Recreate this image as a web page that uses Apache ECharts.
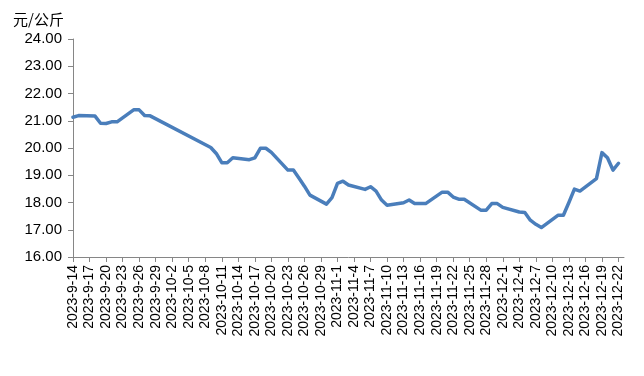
<!DOCTYPE html>
<html>
<head>
<meta charset="utf-8">
<script src="https://cdn.jsdelivr.net/npm/echarts@6/dist/echarts.min.js"></script>
<style>
html,body{margin:0;padding:0;background:#fff;}
#chart{width:644px;height:376px;}
</style>
</head>
<body>
<div id="chart"></div>
<script>
// Axis span (calendar days) and tick labels
const firstDay = '2023-09-14';
const lastDay = '2023-12-23';
const yTicks = [16, 17, 18, 19, 20, 21, 22, 23, 24];
const unitLabel = '元/公斤';

// Trading days and prices (元/公斤)
const tradeDates = [
  '2023-9-14','2023-9-15','2023-9-18','2023-9-19','2023-9-20','2023-9-21','2023-9-22',
  '2023-9-25','2023-9-26','2023-9-27','2023-9-28',
  '2023-10-9','2023-10-10','2023-10-11','2023-10-12','2023-10-13',
  '2023-10-16','2023-10-17','2023-10-18','2023-10-19','2023-10-20',
  '2023-10-23','2023-10-24','2023-10-25','2023-10-26','2023-10-27',
  '2023-10-30','2023-10-31','2023-11-1','2023-11-2','2023-11-3',
  '2023-11-6','2023-11-7','2023-11-8','2023-11-9','2023-11-10',
  '2023-11-13','2023-11-14','2023-11-15','2023-11-16','2023-11-17',
  '2023-11-20','2023-11-21','2023-11-22','2023-11-23','2023-11-24',
  '2023-11-27','2023-11-28','2023-11-29','2023-11-30','2023-12-1',
  '2023-12-4','2023-12-5','2023-12-6','2023-12-7','2023-12-8',
  '2023-12-11','2023-12-12','2023-12-13','2023-12-14','2023-12-15',
  '2023-12-18','2023-12-19','2023-12-20','2023-12-21','2023-12-22'
];
const prices = [
  21.13, 21.19, 21.17, 20.91, 20.90, 20.96, 20.96,
  21.40, 21.40, 21.19, 21.18,
  20.02, 19.80, 19.46, 19.46, 19.64,
  19.57, 19.64, 19.99, 19.99, 19.84,
  19.19, 19.19, 18.90, 18.60, 18.27,
  17.94, 18.18, 18.70, 18.78, 18.64,
  18.48, 18.58, 18.42, 18.09, 17.90,
  17.99, 18.09, 17.96, 17.96, 17.96,
  18.38, 18.38, 18.20, 18.12, 18.12,
  17.72, 17.72, 17.96, 17.96, 17.82,
  17.65, 17.63, 17.35, 17.20, 17.08,
  17.53, 17.53, 18.00, 18.49, 18.42,
  18.88, 19.83, 19.64, 19.19, 19.44
];

// Build the daily category axis
function fmt(d){ return d.getUTCFullYear() + '-' + (d.getUTCMonth()+1) + '-' + d.getUTCDate(); }
const categories = [];
for (let d = new Date(firstDay + 'T00:00:00Z'); d <= new Date(lastDay + 'T00:00:00Z'); d.setUTCDate(d.getUTCDate()+1)) {
  categories.push(fmt(d));
}
const priceMap = {};
tradeDates.forEach((t, i) => { priceMap[t] = prices[i]; });
const seriesData = categories.map(c => (c in priceMap ? priceMap[c] : null));

const chart = echarts.init(document.getElementById('chart'), null, {renderer: 'canvas'});
chart.setOption({
  animation: false,
  backgroundColor: '#ffffff',
  textStyle: { fontFamily: 'Liberation Sans, Arial, sans-serif' },
  title: {
    text: unitLabel,
    left: 8, top: 7,
    textStyle: { fontFamily: 'Noto Sans CJK SC, sans-serif', fontSize: 15, fontWeight: 'normal', color: '#000' }
  },
  grid: { left: 73, top: 39, right: 20, bottom: 119, containLabel: false },
  xAxis: {
    type: 'category',
    data: categories,
    boundaryGap: false,
    axisLine: { lineStyle: { color: '#868686', width: 1 } },
    axisTick: { show: true, interval: 2, length: 5, lineStyle: { color: '#868686' } },
    axisLabel: { interval: 2, rotate: 90, margin: 8, fontSize: 14, color: '#000', fontFamily: 'Liberation Sans, Arial, sans-serif' },
    splitLine: { show: false }
  },
  yAxis: {
    type: 'value',
    min: yTicks[0], max: yTicks[yTicks.length-1], interval: 1,
    axisLine: { show: true, lineStyle: { color: '#868686', width: 1 } },
    axisTick: { show: true, length: 5, lineStyle: { color: '#868686' } },
    axisLabel: { margin: 11, fontSize: 15, color: '#000', fontFamily: 'Liberation Sans, Arial, sans-serif',
      formatter: v => v.toFixed(2) },
    splitLine: { show: false }
  },
  series: [{
    type: 'line',
    data: seriesData,
    connectNulls: true,
    showSymbol: false,
    symbol: 'none',
    lineStyle: { color: '#4A7EBB', width: 3.5, join: 'round', cap: 'round' },
    itemStyle: { color: '#4A7EBB' }
  }]
});
</script>
</body>
</html>
